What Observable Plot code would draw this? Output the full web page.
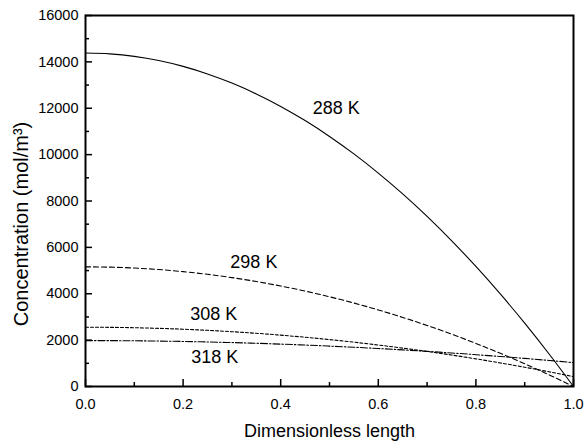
<!DOCTYPE html>
<html>
<head>
<meta charset="utf-8">
<script src="https://cdn.jsdelivr.net/npm/d3@7"></script>
<script src="https://cdn.jsdelivr.net/npm/@observablehq/plot@0.6"></script>
<style>
  html, body { margin: 0; padding: 0; background: #fff; }
  #chart svg { display: block; }
</style>
</head>
<body>
<div id="chart"></div>
<script>
// Dimensionless length (x) sample points
const lengths = [0, 0.05, 0.1, 0.15, 0.2, 0.25, 0.3, 0.35, 0.4, 0.45, 0.5,
                 0.55, 0.6, 0.65, 0.7, 0.75, 0.8, 0.85, 0.9, 0.95, 1.0];
// Concentration (mol/m3), per temperature
const c288 = [14380, 14344, 14236, 14056, 13805, 13481, 13086, 12618, 12079, 11468, 10785,
              10030, 9203, 8304, 7334, 6291, 5177, 3990, 2732, 1402, 0];
const c298 = [5160, 5147, 5108, 5044, 4954, 4838, 4696, 4528, 4334, 4115, 3870,
              3599, 3302, 2980, 2632, 2258, 1858, 1432, 980, 503, 0];
const c308 = [2556, 2551, 2535, 2508, 2471, 2423, 2364, 2295, 2215, 2125, 2024,
              1912, 1789, 1656, 1512, 1358, 1193, 1017, 831, 634, 426];
const c318 = [1980, 1978, 1971, 1959, 1942, 1921, 1895, 1864, 1828, 1788, 1743,
              1693, 1638, 1579, 1515, 1446, 1372, 1294, 1211, 1123, 1030];

const seriesNames = ["288 K", "298 K", "308 K", "318 K"];
const seriesValues = [c288, c298, c308, c318];
const dashes = [null, "5,3", "3,2", "7,2,1.5,2"];

// in-plot curve labels (annotation anchor in data units)
const labelText = ["288 K", "298 K", "308 K", "318 K"];
const labelX = [0.514, 0.345, 0.263, 0.265];
const labelY = [12000, 5350, 3110, 1255];

// tick values
const xMajor = [0, 0.2, 0.4, 0.6, 0.8, 1.0];
const xMinor = [0.1, 0.3, 0.5, 0.7, 0.9];
const yMajor = [0, 2000, 4000, 6000, 8000, 10000, 12000, 14000, 16000];
const yMinor = [1000, 3000, 5000, 7000, 9000, 11000, 13000, 15000];

const lineMarks = seriesNames.map((name, i) => {
  const rows = lengths.map((x, j) => ({x, c: seriesValues[i][j], name}));
  return Plot.line(rows, {
    x: "x", y: "c", stroke: "black", strokeWidth: 1.1,
    strokeDasharray: dashes[i] ?? undefined, curve: "monotone-x"
  });
});

const labels = labelText.map((t, i) => ({t, x: labelX[i], y: labelY[i]}));

const chart = Plot.plot({
  width: 584,
  height: 441,
  marginLeft: 85,
  marginRight: 11,
  marginTop: 15,
  marginBottom: 55,
  style: {fontFamily: "'Liberation Sans', Arial, sans-serif", background: "#fff", color: "#000"},
  x: {domain: [0, 1]},
  y: {domain: [0, 16000]},
  marks: [
    ...lineMarks,
    Plot.text(labels, {x: "x", y: "y", text: "t", fontSize: 18, fill: "black"}),
    // major / minor ticks, drawn inward
    Plot.axisX({ticks: xMajor, tickSize: -7, strokeWidth: 1.5, text: null, label: null}),
    Plot.axisX({ticks: xMinor, tickSize: -4, strokeWidth: 1.5, text: null, label: null}),
    Plot.axisY({ticks: yMajor, tickSize: -7, strokeWidth: 1.5, text: null, label: null}),
    Plot.axisY({ticks: yMinor, tickSize: -4, strokeWidth: 1.5, text: null, label: null}),
    // tick labels and titles
    Plot.axisX({ticks: xMajor, tickSize: 0, tickPadding: 12, tickFormat: ".1f", fontSize: 14.5,
      label: "Dimensionless length", labelAnchor: "center", labelArrow: "none", labelOffset: 50}),
    Plot.axisY({ticks: yMajor, tickSize: 0, tickPadding: 7, tickFormat: "d", fontSize: 14.5, label: null}),
    Plot.text(["Concentration (mol/m³)"], {frameAnchor: "left", rotate: -90, dx: -64, dy: 23,
      textAnchor: "middle", lineAnchor: "middle", fontSize: 20, fill: "black"}),
    Plot.frame({stroke: "black", strokeWidth: 2})
  ]
});

// enlarge axis title font
chart.querySelectorAll("text").forEach(t => {
  if (t.textContent === "Dimensionless length") t.setAttribute("font-size", 18);
});
document.getElementById("chart").appendChild(chart);
</script>
</body>
</html>
